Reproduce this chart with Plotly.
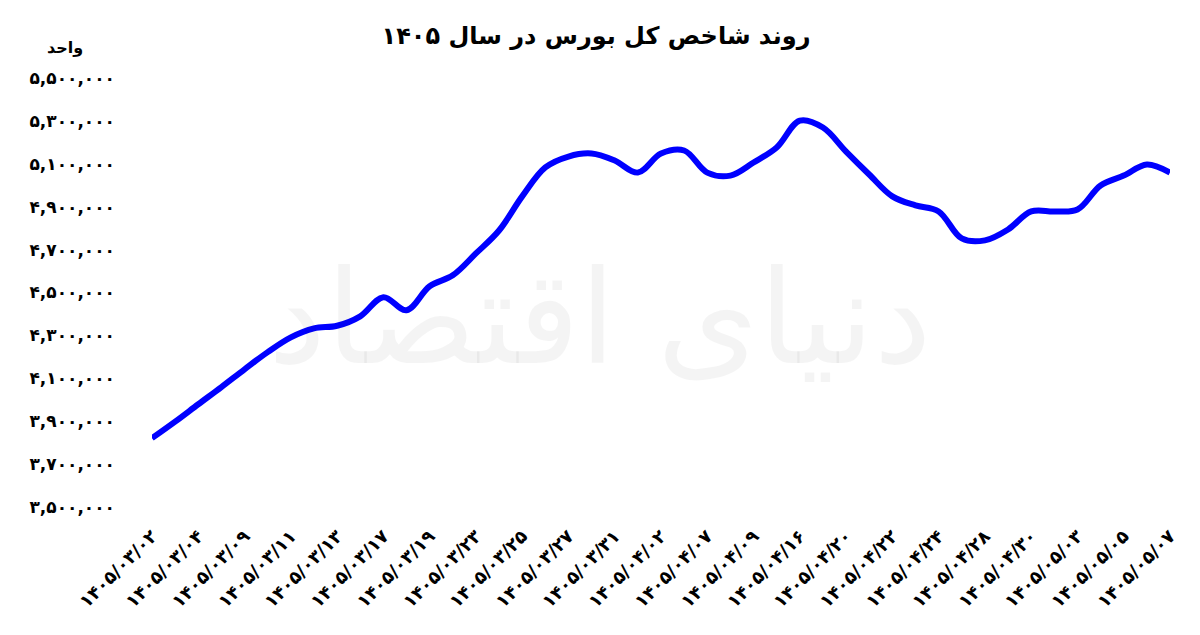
import plotly.graph_objects as go

FA = str.maketrans("0123456789", "۰۱۲۳۴۵۶۷۸۹")

def fa(s):
    return str(s).translate(FA)

# Labelled trading days (every other point on the x axis)
date_labels = [
    "1405/03/02", "1405/03/04", "1405/03/09", "1405/03/11", "1405/03/13",
    "1405/03/17", "1405/03/19", "1405/03/23", "1405/03/25", "1405/03/27",
    "1405/03/31", "1405/04/02", "1405/04/07", "1405/04/09", "1405/04/16",
    "1405/04/20", "1405/04/22", "1405/04/24", "1405/04/28", "1405/04/30",
    "1405/05/03", "1405/05/05", "1405/05/07",
]

# Index values (units), one per trading day
index_values = [
    3821000, 3898000, 3979000, 4059000, 4142000, 4222000, 4291000, 4333000,
    4345000, 4389000, 4478000, 4417000, 4529000, 4580000, 4682000, 4789000,
    4948000, 5083000, 5134000, 5148000, 5115000, 5059000, 5148000, 5162000,
    5059000, 5045000, 5106000, 5176000, 5301000, 5269000, 5157000, 5050000,
    4948000, 4906000, 4878000, 4752000, 4743000, 4794000, 4878000, 4878000,
    4887000, 4999000, 5045000, 5097000, 5059000,
]

y_ticks = [3500000, 3700000, 3900000, 4100000, 4300000, 4500000,
           4700000, 4900000, 5100000, 5300000, 5500000]

title_text = "روند شاخص کل بورس در سال ۱۴۰۵"
unit_text = "واحد"
watermark_text = "دنیای اقتصاد"

x_idx = list(range(len(index_values)))
label_pos = x_idx[::2]

FONT = "DejaVu Sans"

fig = go.Figure()
fig.add_trace(go.Scatter(
    x=x_idx, y=index_values, mode="lines",
    line=dict(color="#0000FF", width=6, shape="spline", smoothing=1.0),
    hoverinfo="y", showlegend=False,
))

fig.update_layout(
    width=1200, height=635,
    paper_bgcolor="white", plot_bgcolor="white",
    margin=dict(l=144, r=38, t=70, b=136, autoexpand=False),
    title=dict(text="<b>" + title_text + "</b>", x=0.49, xanchor="center",
               y=0.957, yanchor="middle",
               font=dict(family=FONT, size=24, color="black")),
    xaxis=dict(
        range=[0, len(index_values) - 1],
        tickmode="array", tickvals=label_pos,
        ticktext=["<b>" + fa(d) + "</b>" for d in date_labels],
        tickangle=-45, showgrid=False, zeroline=False, showline=False,
        ticks="", ticklabelstandoff=14,
        tickfont=dict(family=FONT, size=18, color="black"),
    ),
    yaxis=dict(
        range=[3500000, 5500000],
        tickmode="array", tickvals=y_ticks,
        ticktext=["<b>" + fa(f"{v:,}") + "</b>" for v in y_ticks],
        showgrid=False, zeroline=False, showline=False, ticks="",
        ticklabelstandoff=36,
        tickfont=dict(family=FONT, size=17, color="black"),
    ),
    annotations=[
        dict(text="<b>" + unit_text + "</b>", xref="paper", yref="paper",
             x=-0.085, y=1.0, xanchor="center", yanchor="middle", yshift=31,
             showarrow=False, font=dict(family=FONT, size=16, color="black")),
        dict(text=watermark_text, xref="paper", yref="paper",
             x=0.44, y=0.44, xanchor="center", yanchor="middle",
             showarrow=False,
             font=dict(family=FONT, size=130, color="rgba(0,0,0,0.045)")),
    ],
)

fig.write_html("out.html")
